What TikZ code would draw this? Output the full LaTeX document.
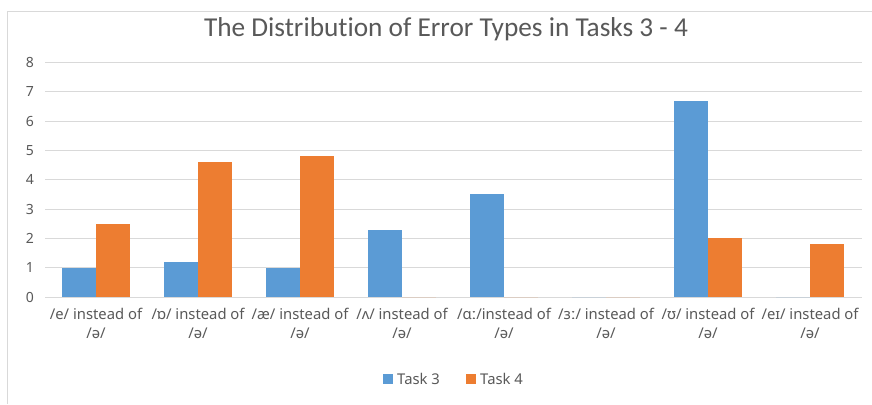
\documentclass[tikz,border=0pt]{standalone}
\usepackage{fontspec}
\setmainfont{Noto Sans}
\newfontfamily\titlefont[Ligatures={NoCommon}]{Carlito}
\definecolor{tblue}{HTML}{5B9BD5}
\definecolor{torange}{HTML}{ED7D31}
\definecolor{gridgray}{HTML}{D9D9D9}
\definecolor{txtgray}{HTML}{595959}
\tikzset{
  gridline/.style={draw=gridgray, line width=1pt},
  bluebar/.style={fill=tblue},
  orangebar/.style={fill=torange},
  axislabel/.style={text=txtgray, font=\fontsize{14.8}{19}\selectfont, inner sep=0pt, align=center},
  ticklabel/.style={text=txtgray, font=\fontsize{14}{16}\selectfont, inner sep=0pt},
  legendtext/.style={text=txtgray, font=\fontsize{14.8}{16}\selectfont, inner sep=0pt, anchor=west},
}
\begin{document}
\begin{tikzpicture}[x=1pt,y=-1pt]
\useasboundingbox (0,0) rectangle (872,404);
\fill[white] (0,0) rectangle (872,404);
\draw[gridgray, line width=1pt] (7,404) -- (7,11.5) -- (872,11.5);
\node[text=txtgray, font=\titlefont\fontsize{27.3}{30}\selectfont, inner sep=0pt] (title) at (446,29) {The Distribution of Error Types in Tasks 3 - 4};
% grid and y labels
\foreach \v in {0,...,8} {
  \draw[gridline] (45,{297-29.3*\v}) -- (862,{297-29.3*\v});
  \node[ticklabel] (y\v) at (30,{297-29.3*\v}) {\v};
}
% bars
\def\bh{29.3}
\foreach \k/\a/\b in {1/1/2.5, 2/1.2/4.6, 3/1/4.8, 4/2.3/0, 5/3.5/0, 6/0/0, 7/6.7/2, 8/0/1.8} {
  \pgfmathsetmacro{\cx}{45+102*(\k-0.5)}
  \fill[bluebar] ({\cx-34},297) rectangle (\cx,{297-\bh*\a});
  \fill[orangebar] (\cx,297) rectangle ({\cx+34},{297-\bh*\b});
}
% category labels
\node[axislabel, anchor=north] (c1) at (96,308) {/e/ instead of\\/ə/};
\node[axislabel, anchor=north] (c2) at (198,308) {/ɒ/ instead of\\/ə/};
\node[axislabel, anchor=north] (c3) at (300,308) {/æ/ instead of\\/ə/};
\node[axislabel, anchor=north] (c4) at (402,308) {/ʌ/ instead of\\/ə/};
\node[axislabel, anchor=north] (c5) at (504,308) {/ɑː/instead of\\/ə/};
\node[axislabel, anchor=north] (c6) at (606,308) {/ɜː/ instead of\\/ə/};
\node[axislabel, anchor=north] (c7) at (708,308) {/ʊ/ instead of\\/ə/};
\node[axislabel, anchor=north] (c8) at (810,308) {/eɪ/ instead of\\/ə/};
% legend
\fill[bluebar] (383,374) rectangle (393,384);
\node[legendtext] (l1) at (397,379) {Task 3};
\fill[orangebar] (466,374) rectangle (476,384);
\node[legendtext] (l2) at (480,379) {Task 4};
\end{tikzpicture}
\end{document}
